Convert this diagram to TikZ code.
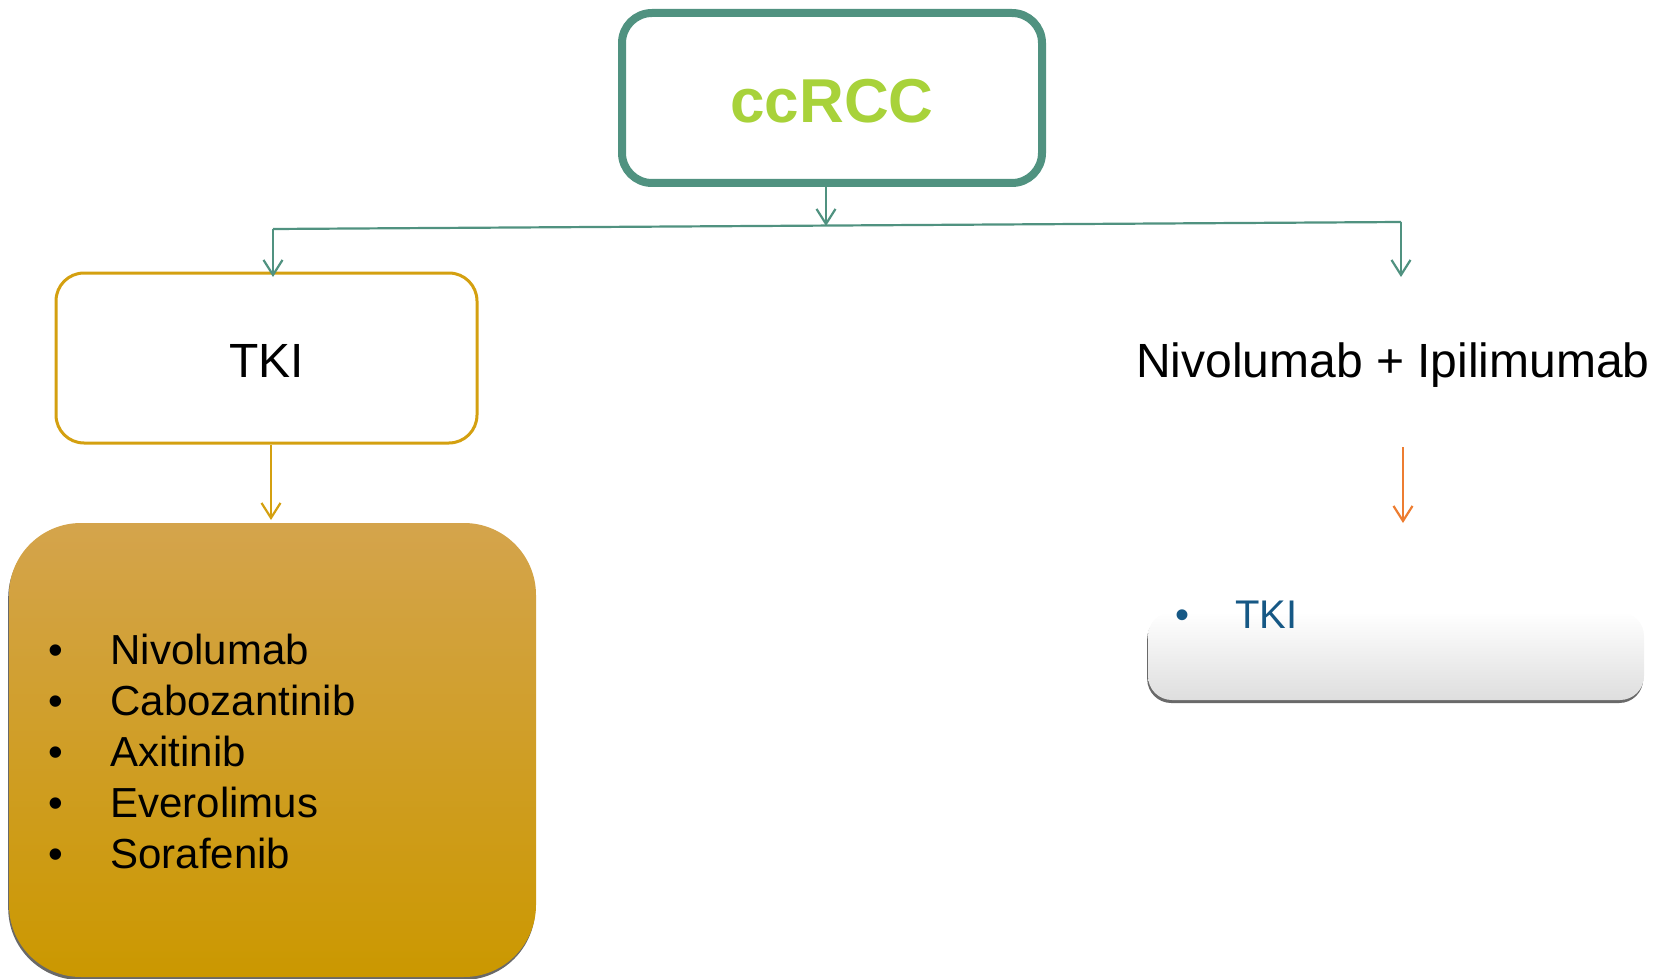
\documentclass[tikz,border=0pt]{standalone}
\usepackage{fontspec}
\setmainfont{Liberation Sans}
\usetikzlibrary{arrows.meta,shadows}
\definecolor{teal1}{RGB}{80,146,128}
\definecolor{lime1}{RGB}{168,210,58}
\definecolor{gold1}{RGB}{212,160,16}
\definecolor{goldtop}{RGB}{212,164,76}
\definecolor{goldbot}{RGB}{203,152,0}
\definecolor{orange1}{RGB}{237,125,49}
\definecolor{blue1}{RGB}{22,88,133}
\definecolor{shadowgray}{RGB}{105,105,105}
\definecolor{greybot}{RGB}{222,222,222}
\begin{document}
\begin{tikzpicture}[x=0.5pt,y=-0.5pt,
  conn/.style={line width=1.1pt},
  tipv/.style={-{Straight Barb[length=7.5pt,width=9.5pt]}},
  bshadow/.style={drop shadow={shadow xshift=-0.4pt,shadow yshift=-1.5pt,fill=shadowgray,opacity=1}},
  item/.style={anchor=base west,inner sep=0,font=\fontsize{21}{25}\selectfont},
  bigtext/.style={font=\fontsize{24}{28}\selectfont}]
\useasboundingbox (0,0) rectangle (1667,979);

% top node
\node[draw=teal1,line width=4pt,rounded corners=15pt,minimum width=210pt,minimum height=85pt,inner sep=0,
      font=\fontsize{31}{36}\selectfont\bfseries,text=lime1] (ccrcc) at (832,98) {\raisebox{-1.6pt}[\height][\depth]{ccRCC}};

% TKI box
\node[draw=gold1,line width=1.5pt,rounded corners=14pt,minimum width=210.5pt,minimum height=85pt,inner sep=0,bigtext] (tki) at (266.5,358) {\raisebox{-1.5pt}[\height][\depth]{TKI}};

% gold list box
\node[top color=goldtop,bottom color=goldbot,draw=none,rounded corners=36pt,minimum width=263.5pt,minimum height=227pt,inner sep=0,bshadow] (gbox) at (272.5,750) {};
\node[item] (l1) at (48,664) {\makebox[31pt][l]{•}Nivolumab};
\node[item] (l2) at (48,715) {\makebox[31pt][l]{•}Cabozantinib};
\node[item] (l3) at (48,766) {\makebox[31pt][l]{•}Axitinib};
\node[item] (l4) at (48,817) {\makebox[31pt][l]{•}Everolimus};
\node[item] (l5) at (48,868) {\makebox[31pt][l]{•}Sorafenib};

% right branch
\node[anchor=base,inner sep=0,bigtext] (nivo) at (1393,377) {Nivolumab + Ipilimumab};
\node[top color=white,bottom color=greybot,draw=none,rounded corners=12pt,minimum width=248pt,minimum height=44pt,inner sep=0,bshadow] (gbox2) at (1396,656) {};
\node[anchor=base west,inner sep=0,text=blue1,font=\fontsize{20}{24}\selectfont] (rtki) at (1175,628) {\makebox[30pt][l]{•}TKI};

% connectors
\coordinate (lc) at (273,229);
\coordinate (rc) at (1401,222);
\coordinate (hub) at (826,226);
\coordinate (ltip) at (273,277);
\coordinate (rtip) at (1401,277);
\coordinate (gt) at (271,520);
\coordinate (ot) at (1403,447);
\coordinate (ob) at (1403,523);
\draw[teal1,conn] (lc) -- (rc);
\draw[teal1,conn,tipv] (ccrcc.south -| hub) -- (hub);
\draw[teal1,conn,tipv] (lc) -- (ltip);
\draw[teal1,conn,tipv] (rc) -- (rtip);
\draw[gold1,conn,tipv] (tki.south -| gt) -- (gt);
\draw[orange1,conn,tipv] (ot) -- (ob);
\end{tikzpicture}
\end{document}
